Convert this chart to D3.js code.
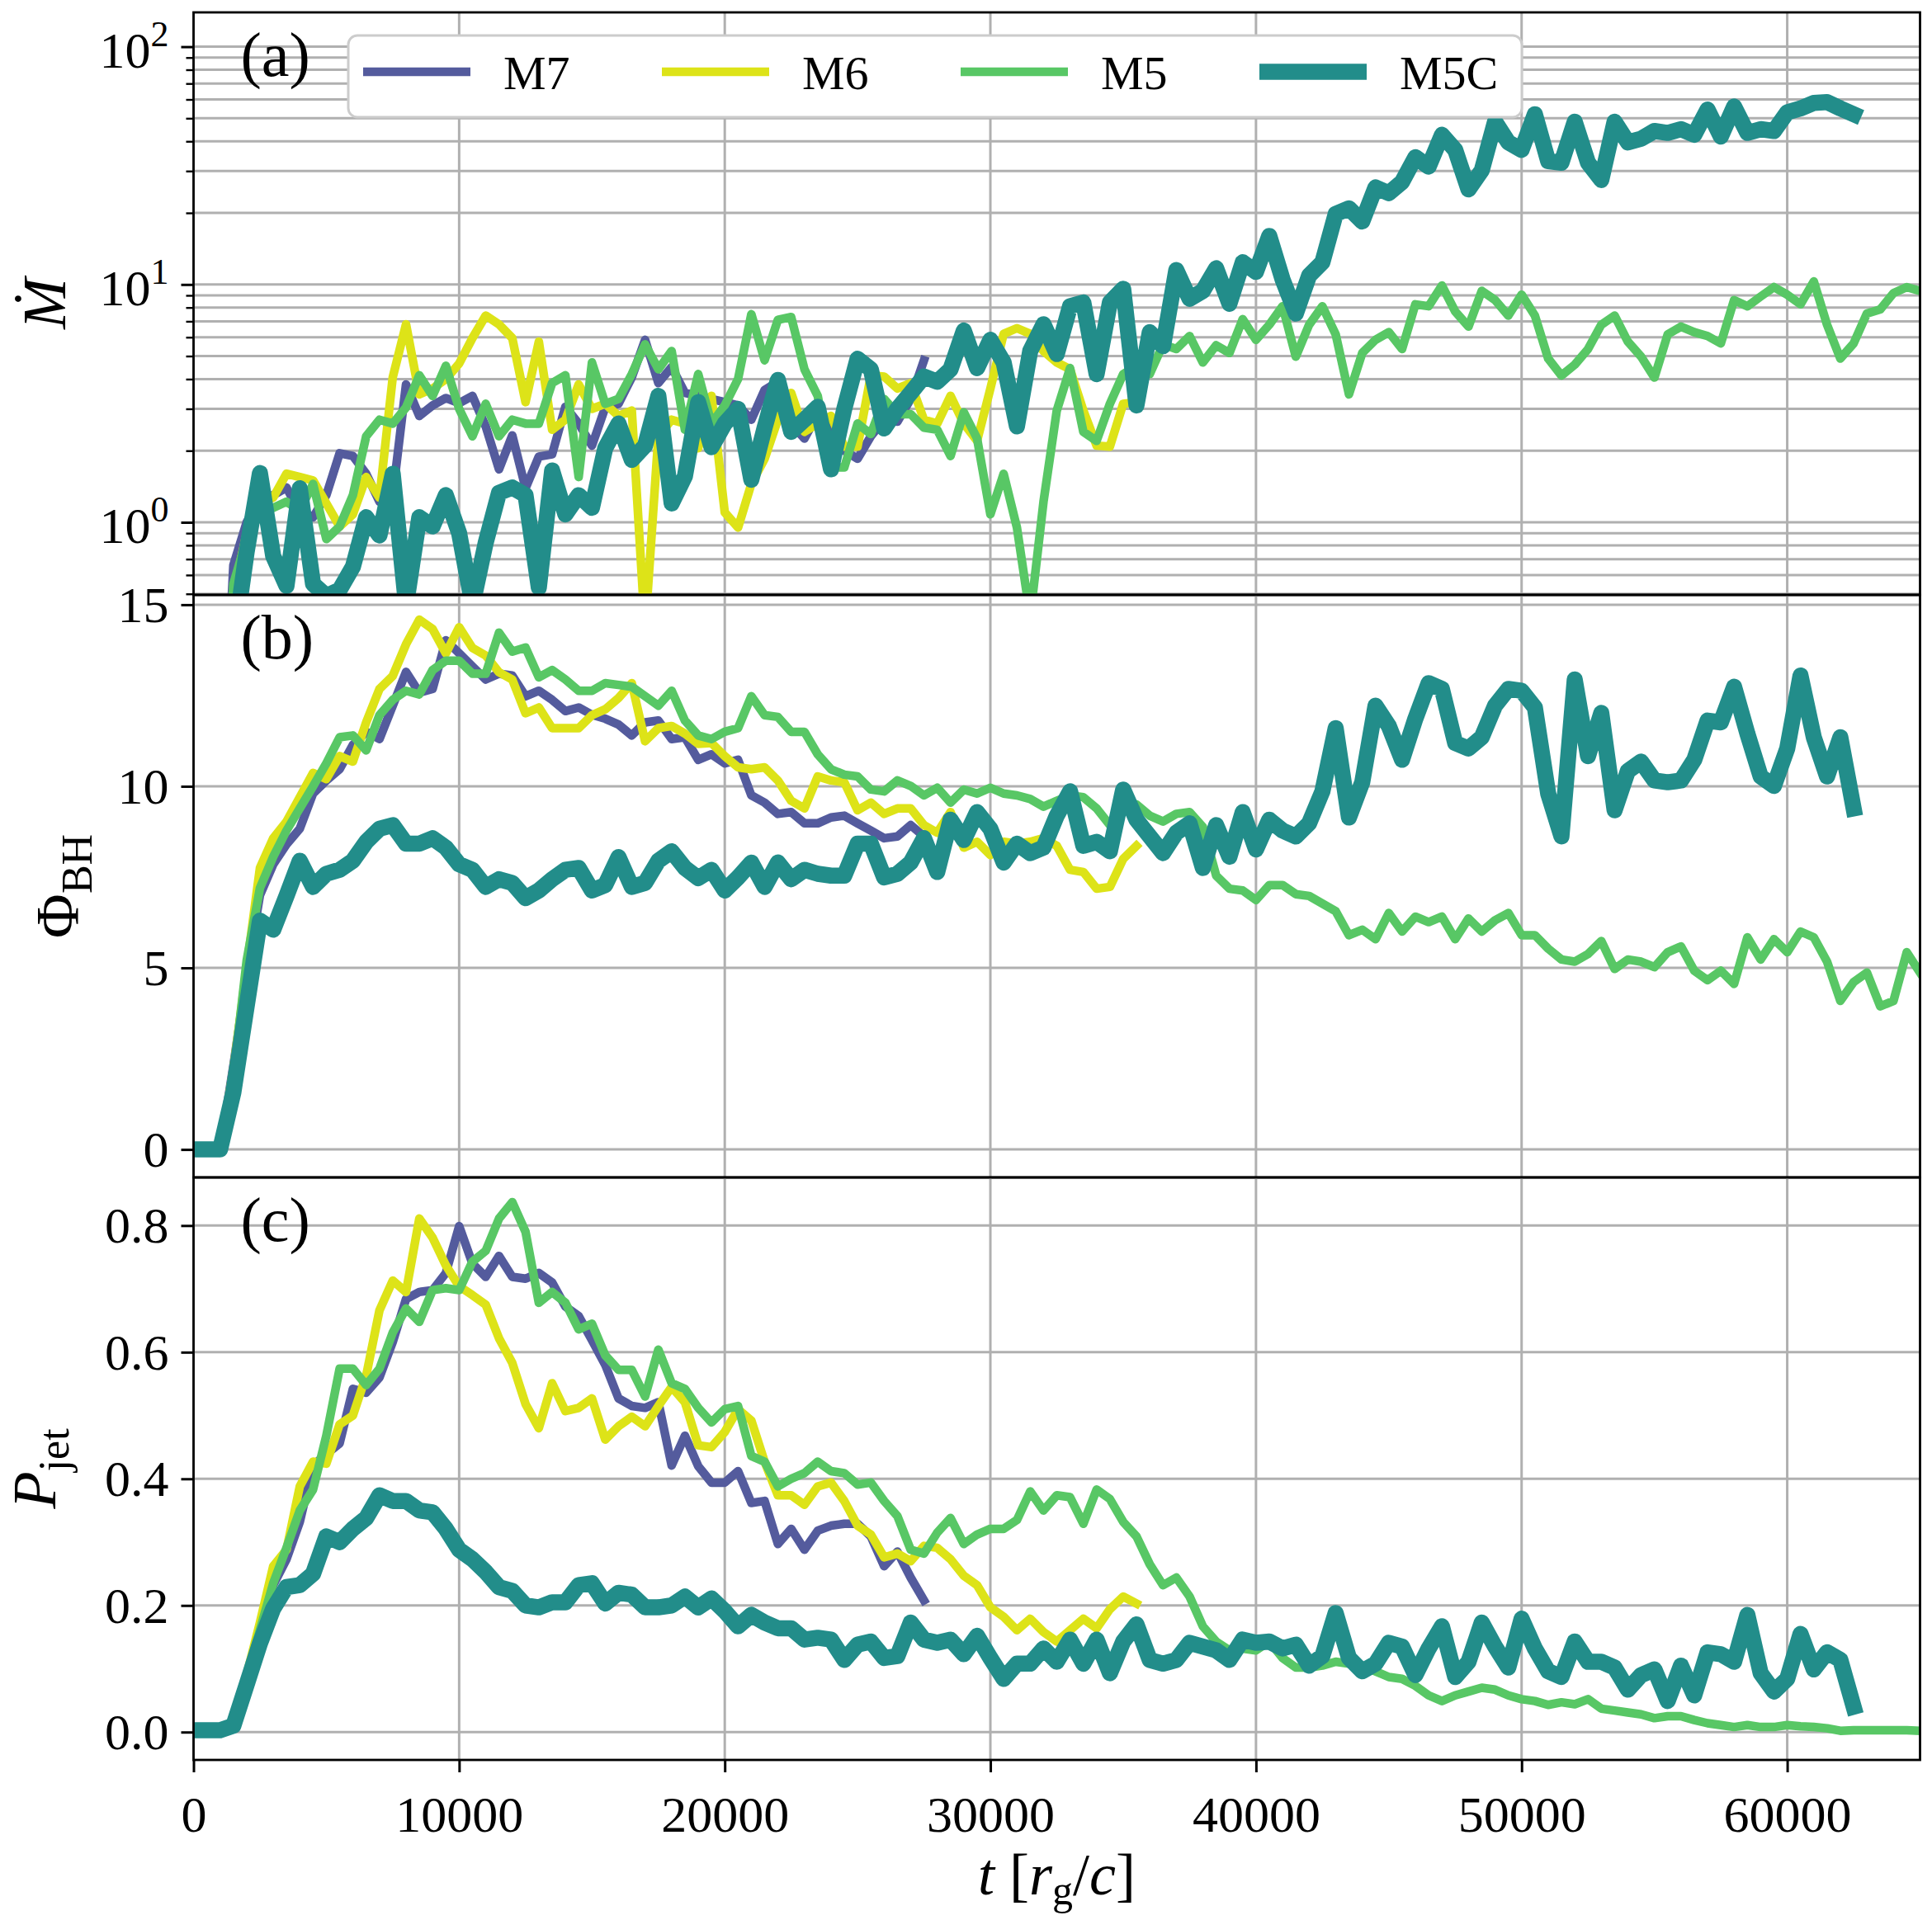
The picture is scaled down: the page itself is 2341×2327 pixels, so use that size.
<!DOCTYPE html>
<html>
<head>
<meta charset="utf-8">
<script src="https://cdn.jsdelivr.net/npm/d3@7"></script>
<style>
  body { margin: 0; background: #fff; }
  text { font-family: 'Liberation Serif', 'Times New Roman', serif; fill: #000; }
</style>
</head>
<body>
<div id="chart"></div>
<script>
// time grid, t in r_g/c
const times = [
  0, 500, 1000, 1500, 2000, 2500, 3000, 3500, 4000, 4500,
  5000, 5500, 6000, 6500, 7000, 7500, 8000, 8500, 9000, 9500,
  10000, 10500, 11000, 11500, 12000, 12500, 13000, 13500, 14000, 14500,
  15000, 15500, 16000, 16500, 17000, 17500, 18000, 18500, 19000, 19500,
  20000, 20500, 21000, 21500, 22000, 22500, 23000, 23500, 24000, 24500,
  25000, 25500, 26000, 26500, 27000, 27500, 28000, 28500, 29000, 29500,
  30000, 30500, 31000, 31500, 32000, 32500, 33000, 33500, 34000, 34500,
  35000, 35500, 36000, 36500, 37000, 37500, 38000, 38500, 39000, 39500,
  40000, 40500, 41000, 41500, 42000, 42500, 43000, 43500, 44000, 44500,
  45000, 45500, 46000, 46500, 47000, 47500, 48000, 48500, 49000, 49500,
  50000, 50500, 51000, 51500, 52000, 52500, 53000, 53500, 54000, 54500,
  55000, 55500, 56000, 56500, 57000, 57500, 58000, 58500, 59000, 59500,
  60000, 60500, 61000, 61500, 62000, 62500, 63000, 63500, 64000, 64500,
  65000
]

const runs = ['M7', 'M6', 'M5', 'M5C']

// (a) accretion rate, null where nothing reaches the hole yet
const mdotM7 = [
  null, null, 0.05, 0.66, 1.0, 1.25, 1.3, 1.4, 1.1, 1.05,
  1.3, 1.95, 1.9, 1.6, 1.22, 1.3, 3.8, 2.8, 3.1, 3.33,
  3.17, 3.4, 2.53, 1.67, 2.32, 1.39, 1.89, 1.93, 3.06, 2.6,
  2.1, 3.04, 3.15, 4.07, 5.85, 3.85, 4.5, 3.5, 3.4, 3.3,
  3.2, 3.1, 2.7, 3.6, 3.9, 2.6, 2.25, 2.85, 2.4, 2.0,
  1.85, 2.3, 2.7, 2.65, 3.3, 4.8
]
const mdotM6 = [
  null, null, 0.05, 0.5, 0.9, 1.2, 1.27, 1.6, 1.55, 1.5,
  1.2, 0.96, 1.08, 1.55, 1.27, 4.07, 6.8, 3.45, 3.65, 4.0,
  4.65, 5.95, 7.4, 6.8, 5.95, 3.2, 5.75, 2.45, 2.7, 3.8,
  3.0, 3.15, 2.8, 2.95, 0.35, 2.3, 2.7, 2.6, 2.05, 3.4,
  1.1, 0.95, 1.45, 1.85, 2.7, 3.5, 2.4, 2.6, 2.8, 2.08,
  2.08, 4.15, 4.1, 3.65, 3.85, 2.7, 2.6, 3.4, 2.6, 2.2,
  3.65, 6.2, 6.55, 6.2, 5.25, 4.7, 4.4, 2.95, 2.1, 2.08,
  3.15, 3.2
]
const mdotM5 = [
  null, null, 0.05, 0.55, 0.85, 1.1, 1.15, 1.22, 1.12, 1.45,
  0.85, 0.96, 1.3, 2.3, 2.7, 2.6, 3.04, 4.15, 3.4, 4.55,
  3.0, 2.3, 3.15, 2.3, 2.7, 2.6, 2.6, 3.85, 4.15, 1.55,
  4.7, 3.15, 3.3, 4.2, 5.6, 4.4, 5.25, 2.45, 4.2, 2.6,
  3.1, 4.0, 7.5, 4.8, 7.1, 7.3, 4.4, 3.4, 1.7, 1.7,
  2.6, 2.35, 3.3, 2.85, 2.85, 2.5, 2.45, 1.9, 2.9, 2.25,
  1.08, 1.6, 0.95, 0.4, 1.22, 2.95, 4.45, 2.4, 2.2, 3.15,
  4.2, 4.55, 4.2, 5.6, 5.35, 6.07, 4.7, 5.55, 5.15, 7.15,
  5.85, 6.77, 8.1, 4.97, 6.77, 8.1, 6.17, 3.45, 5.15, 5.85,
  6.3, 5.35, 8.25, 8.1, 9.9, 7.7, 6.65, 9.4, 8.6, 7.4,
  9.06, 7.4, 4.88, 4.14, 4.6, 5.35, 6.77, 7.4, 5.75, 4.97,
  4.06, 6.17, 6.65, 6.3, 6.07, 5.65, 8.6, 8.1, 8.9, 9.75,
  9.06, 8.25, 10.3, 6.77, 4.88, 5.65, 7.55, 7.85, 9.2, 9.75,
  9.4
]
const mdotM5C = [
  null, null, 0.1, 0.3, 0.75, 1.61, 0.72, 0.54, 1.39, 0.55,
  0.49, 0.52, 0.65, 1.05, 0.88, 1.6, 0.45, 1.05, 0.96, 1.3,
  0.9, 0.45, 0.82, 1.33, 1.4, 1.3, 0.53, 1.65, 1.08, 1.3,
  1.15, 2.05, 2.6, 1.83, 2.1, 3.4, 1.2, 1.56, 3.2, 2.07,
  2.6, 3.0, 1.51, 2.5, 3.97, 2.4, 2.7, 3.06, 1.67, 3.0,
  4.87, 4.4, 2.48, 3.0, 3.5, 4.1, 3.9, 4.4, 6.4, 4.45,
  5.85, 4.7, 2.53, 5.25, 6.8, 5.1, 8.1, 8.4, 4.2, 8.4,
  9.6, 3.1, 6.3, 5.5, 11.5, 8.7, 9.4, 11.7, 8.3, 12.4,
  11.3, 16.0, 10.5, 7.55, 10.9, 12.4, 19.8, 20.9, 18.4, 25.6,
  24.2, 27.0, 34.3, 31.3, 42.6, 36.8, 25.1, 30.2, 48.4, 39.6,
  36.8, 52, 33, 32.5, 48.4, 32.5, 27.5, 48.4, 39.6, 41,
  44.2, 43.4, 45, 42.6, 54.4, 41.9, 56, 43.4, 45, 44.2,
  53, 55, 58, 58.5, 55, 52
]

// (b) magnetic flux on the hole
const phiM7 = [
  0, 0, 0, 2.3, 4.8, 7.0, 7.85, 8.4, 8.83, 9.8,
  10.16, 10.47, 11.14, 11.5, 11.3, 12.22, 13.15, 12.58, 12.68, 14.02,
  13.66, 13.3, 12.94, 13.1, 13.05, 12.48, 12.63, 12.38, 12.07, 12.17,
  11.97, 11.86, 11.7, 11.4, 11.76, 11.81, 11.3, 11.35, 10.73, 10.88,
  10.63, 10.73, 9.75, 9.55, 9.24, 9.29, 8.98, 8.98, 9.14, 9.19,
  8.98, 8.78, 8.57, 8.62, 8.93, 8.62
]
const phiM6 = [
  0, 0, 0, 2.2, 5.0, 7.75, 8.57, 9.03, 9.7, 10.37,
  10.2, 10.83, 10.68, 11.76, 12.68, 13.04, 13.91, 14.59, 14.33, 13.66,
  14.38, 13.81, 13.6, 13.14, 12.94, 12.01, 12.17, 11.6, 11.6, 11.6,
  11.96, 12.12, 12.43, 12.84, 11.24, 11.6, 11.66, 11.45, 11.17, 11.19,
  10.83, 10.52, 10.47, 10.52, 10.16, 9.6, 9.39, 10.27, 10.16, 10.11,
  9.34, 9.55, 9.24, 9.39, 9.39, 8.93, 8.72, 9.29, 8.31, 8.47,
  8.11, 8.47, 8.42, 8.47, 8.57, 8.36, 7.7, 7.64, 7.18, 7.23,
  8.0, 8.36
]
const phiM5 = [
  0, 0, 0, 2.0, 5.2, 7.2, 8.06, 8.78, 9.39, 10.0,
  10.63, 11.35, 11.4, 10.99, 11.96, 12.38, 12.63, 12.53, 13.2, 13.46,
  13.46, 13.1, 13.1, 14.23, 13.71, 13.82, 13.0, 13.2, 12.94, 12.63,
  12.63, 12.84, 12.79, 12.74, 12.48, 12.22, 12.63, 11.81, 11.4, 11.3,
  11.5, 11.6, 12.48, 11.96, 11.91, 11.5, 11.5, 10.88, 10.47, 10.32,
  10.27, 9.91, 9.86, 10.16, 10.01, 9.75, 9.96, 9.55, 9.91, 9.8,
  9.96, 9.8, 9.75, 9.65, 9.44, 9.6, 9.75, 9.7, 9.39, 8.93,
  9.55, 9.5, 9.19, 9.03, 9.24, 9.29, 8.88, 7.54, 7.18, 7.13,
  6.87, 7.28, 7.28, 7.03, 6.98, 6.77, 6.56, 5.9, 6.05, 5.79,
  6.51, 6.0, 6.41, 6.26, 6.41, 5.79, 6.36, 6.0, 6.31, 6.51,
  5.9, 5.9, 5.53, 5.23, 5.17, 5.38, 5.74, 4.97, 5.23, 5.17,
  5.02, 5.43, 5.59, 4.92, 4.66, 4.92, 4.56, 5.84, 5.23, 5.79,
  5.43, 6.0, 5.84, 5.17, 4.09, 4.61, 4.87, 3.94, 4.09, 5.43,
  4.87
]
const phiM5C = [
  0, 0, 0, 1.57, 3.94, 6.3, 6.05, 6.98, 7.95, 7.23,
  7.59, 7.7, 7.95, 8.47, 8.83, 8.93, 8.42, 8.42, 8.57, 8.31,
  7.85, 7.7, 7.23, 7.44, 7.34, 6.92, 7.13, 7.44, 7.7, 7.75,
  7.13, 7.28, 8.05, 7.23, 7.34, 7.95, 8.21, 7.75, 7.47, 7.7,
  7.13, 7.49, 7.9, 7.23, 7.9, 7.44, 7.7, 7.59, 7.54, 7.54,
  8.42, 8.42, 7.49, 7.59, 7.9, 8.57, 7.64, 9.08, 8.52, 9.29,
  8.83, 7.9, 8.42, 8.16, 8.31, 9.19, 9.86, 8.36, 8.47, 8.21,
  9.91, 9.08, 8.62, 8.16, 8.72, 8.98, 7.75, 8.93, 8.06, 9.29,
  8.26, 9.08, 8.78, 8.62, 8.98, 9.86, 11.6, 9.14, 10.11, 12.22,
  11.66, 10.73, 11.86, 12.84, 12.68, 11.19, 11.04, 11.35, 12.22, 12.68,
  12.63, 12.17, 9.8, 8.62, 12.94, 10.83, 12.02, 9.34, 10.42, 10.68,
  10.16, 10.11, 10.16, 10.73, 11.81, 11.76, 12.74, 11.45, 10.27, 10.01,
  11.04, 13.05, 11.35, 10.27, 11.35, 9.39
]

// (c) jet power
const pjetM7 = [
  0, 0, 0, 0.008, 0.084, 0.161, 0.232, 0.273, 0.332, 0.421,
  0.439, 0.456, 0.542, 0.536, 0.56, 0.616, 0.684, 0.695, 0.698, 0.725,
  0.799, 0.74, 0.719, 0.752, 0.719, 0.716, 0.725, 0.71, 0.672, 0.657,
  0.619, 0.58, 0.527, 0.515, 0.512, 0.521, 0.421, 0.468, 0.42, 0.394,
  0.394, 0.412, 0.362, 0.365, 0.297, 0.321, 0.288, 0.318, 0.326, 0.329,
  0.329, 0.309, 0.262, 0.285, 0.244, 0.208
]
const pjetM6 = [
  0, 0, 0, 0.01, 0.09, 0.173, 0.262, 0.288, 0.388, 0.427,
  0.424, 0.486, 0.5, 0.563, 0.666, 0.713, 0.695, 0.811, 0.781, 0.737,
  0.704, 0.69, 0.675, 0.622, 0.583, 0.518, 0.48, 0.551, 0.507, 0.512,
  0.527, 0.462, 0.483, 0.498, 0.483, 0.515, 0.545, 0.521, 0.453, 0.45,
  0.474, 0.51, 0.492, 0.427, 0.374, 0.374, 0.359, 0.388, 0.394, 0.365,
  0.326, 0.312, 0.276, 0.282, 0.27, 0.294, 0.291, 0.273, 0.247, 0.232,
  0.197, 0.182, 0.161, 0.179, 0.158, 0.143, 0.161, 0.179, 0.164, 0.194,
  0.214, 0.203
]
const pjetM5 = [
  0, 0, 0, 0.008, 0.084, 0.161, 0.235, 0.291, 0.35, 0.383,
  0.468, 0.574, 0.574, 0.548, 0.574, 0.631, 0.669, 0.648, 0.698, 0.701,
  0.698, 0.743, 0.76, 0.811, 0.837, 0.79, 0.678, 0.695, 0.678, 0.636,
  0.645, 0.595, 0.572, 0.572, 0.53, 0.604, 0.551, 0.542, 0.512, 0.489,
  0.51, 0.515, 0.436, 0.427, 0.388, 0.4, 0.409, 0.427, 0.412, 0.409,
  0.391, 0.394, 0.365, 0.341, 0.288, 0.282, 0.315, 0.338, 0.297, 0.312,
  0.321, 0.321, 0.335, 0.38, 0.35, 0.374, 0.371, 0.329, 0.383, 0.368,
  0.332, 0.309, 0.265, 0.232, 0.244, 0.214, 0.167, 0.143, 0.129, 0.132,
  0.129, 0.143, 0.117, 0.102, 0.102, 0.105, 0.111, 0.108, 0.105, 0.096,
  0.087, 0.084, 0.073, 0.058, 0.049, 0.058, 0.064, 0.07, 0.067, 0.058,
  0.052, 0.049, 0.043, 0.047, 0.044, 0.052, 0.037, 0.034, 0.031, 0.028,
  0.022, 0.025, 0.025, 0.019, 0.014, 0.011, 0.008, 0.011, 0.008, 0.008,
  0.011, 0.009, 0.008, 0.006, 0.002, 0.003, 0.003, 0.003, 0.003, 0.003,
  0.002
]
const pjetM5C = [
  0.003, 0.003, 0.003, 0.01, 0.075, 0.14, 0.195, 0.229, 0.232, 0.25,
  0.309, 0.3, 0.321, 0.338, 0.374, 0.365, 0.365, 0.35, 0.347, 0.321,
  0.288, 0.273, 0.253, 0.229, 0.223, 0.2, 0.197, 0.205, 0.205, 0.232,
  0.235, 0.203, 0.22, 0.217, 0.197, 0.197, 0.2, 0.214, 0.197, 0.211,
  0.191, 0.167, 0.185, 0.173, 0.164, 0.164, 0.146, 0.149, 0.146, 0.114,
  0.138, 0.143, 0.117, 0.12, 0.173, 0.146, 0.141, 0.146, 0.123, 0.152,
  0.117, 0.084, 0.108, 0.108, 0.132, 0.111, 0.146, 0.108, 0.146, 0.093,
  0.143, 0.17, 0.114, 0.108, 0.114, 0.141, 0.135, 0.129, 0.114, 0.146,
  0.141, 0.143, 0.132, 0.138, 0.105, 0.12, 0.188, 0.117, 0.096, 0.108,
  0.141, 0.135, 0.09, 0.132, 0.167, 0.087, 0.111, 0.173, 0.135, 0.102,
  0.179, 0.132, 0.096, 0.087, 0.143, 0.111, 0.111, 0.102, 0.067, 0.09,
  0.099, 0.049, 0.105, 0.058, 0.126, 0.123, 0.111, 0.185, 0.093, 0.064,
  0.084, 0.155, 0.099, 0.126, 0.114, 0.04
]

// tick values
const xTicks = [0, 10000, 20000, 30000, 40000, 50000, 60000]
const mdotTicks = [1, 10, 100]
const mdotMinorTicks = [0.5, 0.6, 0.7, 0.8, 0.9, 2, 3, 4, 5, 6, 7, 8, 9, 20, 30, 40, 50, 60, 70, 80, 90]
const phiTicks = [0, 5, 10, 15]
const pjetTicks = [0, 0.2, 0.4, 0.6, 0.8]

let margin = { top: 15, left: 234.5, right: 14.5, bottom: 194 }
let width = 2341 - margin.left - margin.right
let panelHeight = 706

const colorScale = d3.scaleOrdinal().domain(runs).range(['#545b9d', '#dde318', '#58c765', '#228d8a'])
const widthScale = d3.scaleOrdinal().domain(runs).range([10.5, 10.5, 10.5, 19.5])

const svg = d3
  .select('#chart')
  .append('svg')
  .attr('width', 2341)
  .attr('height', 2327)
  .style('background', '#fff')

const chart = svg
  .append('g')
  .attr('transform', 'translate(' + margin.left + ',' + margin.top + ')')

var xPositionScale = d3
  .scaleLinear()
  .domain([0, 65000])
  .range([0, width])

const panels = [
  {
    tag: '(a)',
    y: d3.scaleLog().domain([0.495, 139.4]).range([panelHeight, 0]),
    ticks: mdotTicks,
    minor: mdotMinorTicks,
    series: [mdotM7, mdotM6, mdotM5, mdotM5C]
  },
  {
    tag: '(b)',
    y: d3.scaleLinear().domain([-0.77, 15.27]).range([panelHeight, 0]),
    ticks: phiTicks,
    minor: [],
    series: [phiM7, phiM6, phiM5, phiM5C]
  },
  {
    tag: '(c)',
    y: d3.scaleLinear().domain([-0.044, 0.876]).range([panelHeight, 0]),
    ticks: pjetTicks,
    minor: [],
    series: [pjetM7, pjetM6, pjetM5, pjetM5C]
  }
]

panels.forEach(function(p, i) {
  const g = chart.append('g').attr('transform', 'translate(0,' + i * panelHeight + ')')

  g.append('clipPath')
    .attr('id', 'clip' + i)
    .append('rect')
    .attr('width', width)
    .attr('height', panelHeight)

  // grid
  const grid = g.append('g').attr('clip-path', 'url(#clip' + i + ')')
  grid
    .selectAll('.hgrid')
    .data(p.ticks.concat(p.minor))
    .enter()
    .append('line')
    .attr('x1', 0)
    .attr('x2', width)
    .attr('y1', d => p.y(d))
    .attr('y2', d => p.y(d))
    .attr('stroke', '#b0b0b0')
    .attr('stroke-width', 3)
  grid
    .selectAll('.vgrid')
    .data(xTicks)
    .enter()
    .append('line')
    .attr('x1', d => xPositionScale(d))
    .attr('x2', d => xPositionScale(d))
    .attr('y1', 0)
    .attr('y2', panelHeight)
    .attr('stroke', '#b0b0b0')
    .attr('stroke-width', 3)

  // curves, M5C drawn last
  const line = d3
    .line()
    .defined(d => d.v !== null)
    .x(d => xPositionScale(d.t))
    .y(d => p.y(d.v))

  grid
    .selectAll('.run')
    .data(p.series.map((vals, k) => ({ name: runs[k], points: vals.map((v, j) => ({ t: times[j], v: v })) })))
    .enter()
    .append('path')
    .attr('d', d => line(d.points))
    .attr('fill', 'none')
    .attr('stroke', d => colorScale(d.name))
    .attr('stroke-width', d => widthScale(d.name))
    .attr('stroke-linejoin', 'round')
    .attr('stroke-linecap', 'square')

  // y axis
  const yAxis = g
    .append('g')
    .call(
      d3.axisLeft(p.y)
        .tickValues(p.ticks)
        .tickSize(15)
        .tickPadding(15)
        .tickFormat(i === 2 ? d3.format('.1f') : d3.format('d'))
    )
  yAxis.select('.domain').remove()
  yAxis.selectAll('.tick line').attr('stroke', '#000').attr('stroke-width', 3)
  yAxis
    .selectAll('.tick text')
    .attr('font-family', 'Liberation Serif')
    .attr('font-size', 62)
    .attr('dy', '0.33em')
    .attr('fill', '#000')

  if (p.minor.length) {
    const minorAxis = g
      .append('g')
      .call(d3.axisLeft(p.y).tickValues(p.minor).tickSize(9).tickFormat(''))
    minorAxis.select('.domain').remove()
    minorAxis.selectAll('.tick line').attr('stroke', '#000').attr('stroke-width', 2.4)

    yAxis.selectAll('.tick text').each(function(d) {
      const t = d3.select(this)
      t.text(null).attr('dy', null).attr('y', 25)
      t.append('tspan').text('10')
      t.append('tspan')
        .attr('dy', -26)
        .attr('font-size', 44)
        .text(Math.round(Math.log10(d)))
    })
  }

  // frame
  g.append('rect')
    .attr('width', width)
    .attr('height', panelHeight)
    .attr('fill', 'none')
    .attr('stroke', '#000')
    .attr('stroke-width', 2.8)

  g.append('text')
    .attr('x', 57)
    .attr('y', 77)
    .attr('font-size', 76)
    .text(p.tag)
})

// x axis on the bottom panel
const xAxis = chart
  .append('g')
  .attr('transform', 'translate(0,' + 3 * panelHeight + ')')
  .call(
    d3.axisBottom(xPositionScale)
      .tickValues(xTicks)
      .tickSize(15)
      .tickPadding(28)
      .tickFormat(d3.format('d'))
  )
xAxis.select('.domain').remove()
xAxis.selectAll('.tick line').attr('stroke', '#000').attr('stroke-width', 3)
xAxis
  .selectAll('.tick text')
  .attr('font-family', 'Liberation Serif')
  .attr('font-size', 62)
  .attr('fill', '#000')

// axis labels
const xl = svg
  .append('text')
  .attr('x', margin.left + width / 2)
  .attr('y', 2296)
  .attr('text-anchor', 'middle')
  .attr('font-size', 72)
xl.append('tspan').attr('font-style', 'italic').text('t')
xl.append('tspan').text(' [')
xl.append('tspan').attr('font-style', 'italic').text('r')
xl.append('tspan').attr('font-size', 50).attr('dy', 12).text('g')
xl.append('tspan').attr('dy', -12).text('/')
xl.append('tspan').attr('font-style', 'italic').text('c')
xl.append('tspan').text(']')

const ylabels = [
  { x: 79, parts: [{ s: 'Ṁ', italic: true }] },
  { x: 95, parts: [{ s: 'Φ' }, { s: 'BH', sub: true }] },
  { x: 67, parts: [{ s: 'P', italic: true }, { s: 'jet', sub: true }] }
]
ylabels.forEach(function(l, i) {
  const cy = margin.top + i * panelHeight + panelHeight / 2
  const t = svg
    .append('text')
    .attr('transform', 'translate(' + l.x + ',' + cy + ') rotate(-90)')
    .attr('text-anchor', 'middle')
    .attr('font-size', 74)
  l.parts.forEach(function(part) {
    const s = t.append('tspan').text(part.s)
    if (part.italic) s.attr('font-style', 'italic')
    if (part.sub) s.attr('font-size', 52).attr('dy', 16)
  })
})

// legend
const legend = svg.append('g')
legend
  .append('rect')
  .attr('x', 422)
  .attr('y', 43)
  .attr('width', 1422)
  .attr('height', 99)
  .attr('rx', 11)
  .attr('fill', '#fff')
  .attr('stroke', '#cccccc')
  .attr('stroke-width', 3)
const items = legend
  .selectAll('.item')
  .data(runs)
  .enter()
  .append('g')
  .attr('transform', (d, i) => 'translate(' + (440 + i * 362) + ',0)')
items
  .append('line')
  .attr('x1', 0)
  .attr('x2', 130)
  .attr('y1', 87)
  .attr('y2', 87)
  .attr('stroke', d => colorScale(d))
  .attr('stroke-width', d => widthScale(d))
items
  .append('text')
  .attr('x', 170)
  .attr('y', 108)
  .attr('font-size', 58)
  .text(d => d)
</script>
</body>
</html>
